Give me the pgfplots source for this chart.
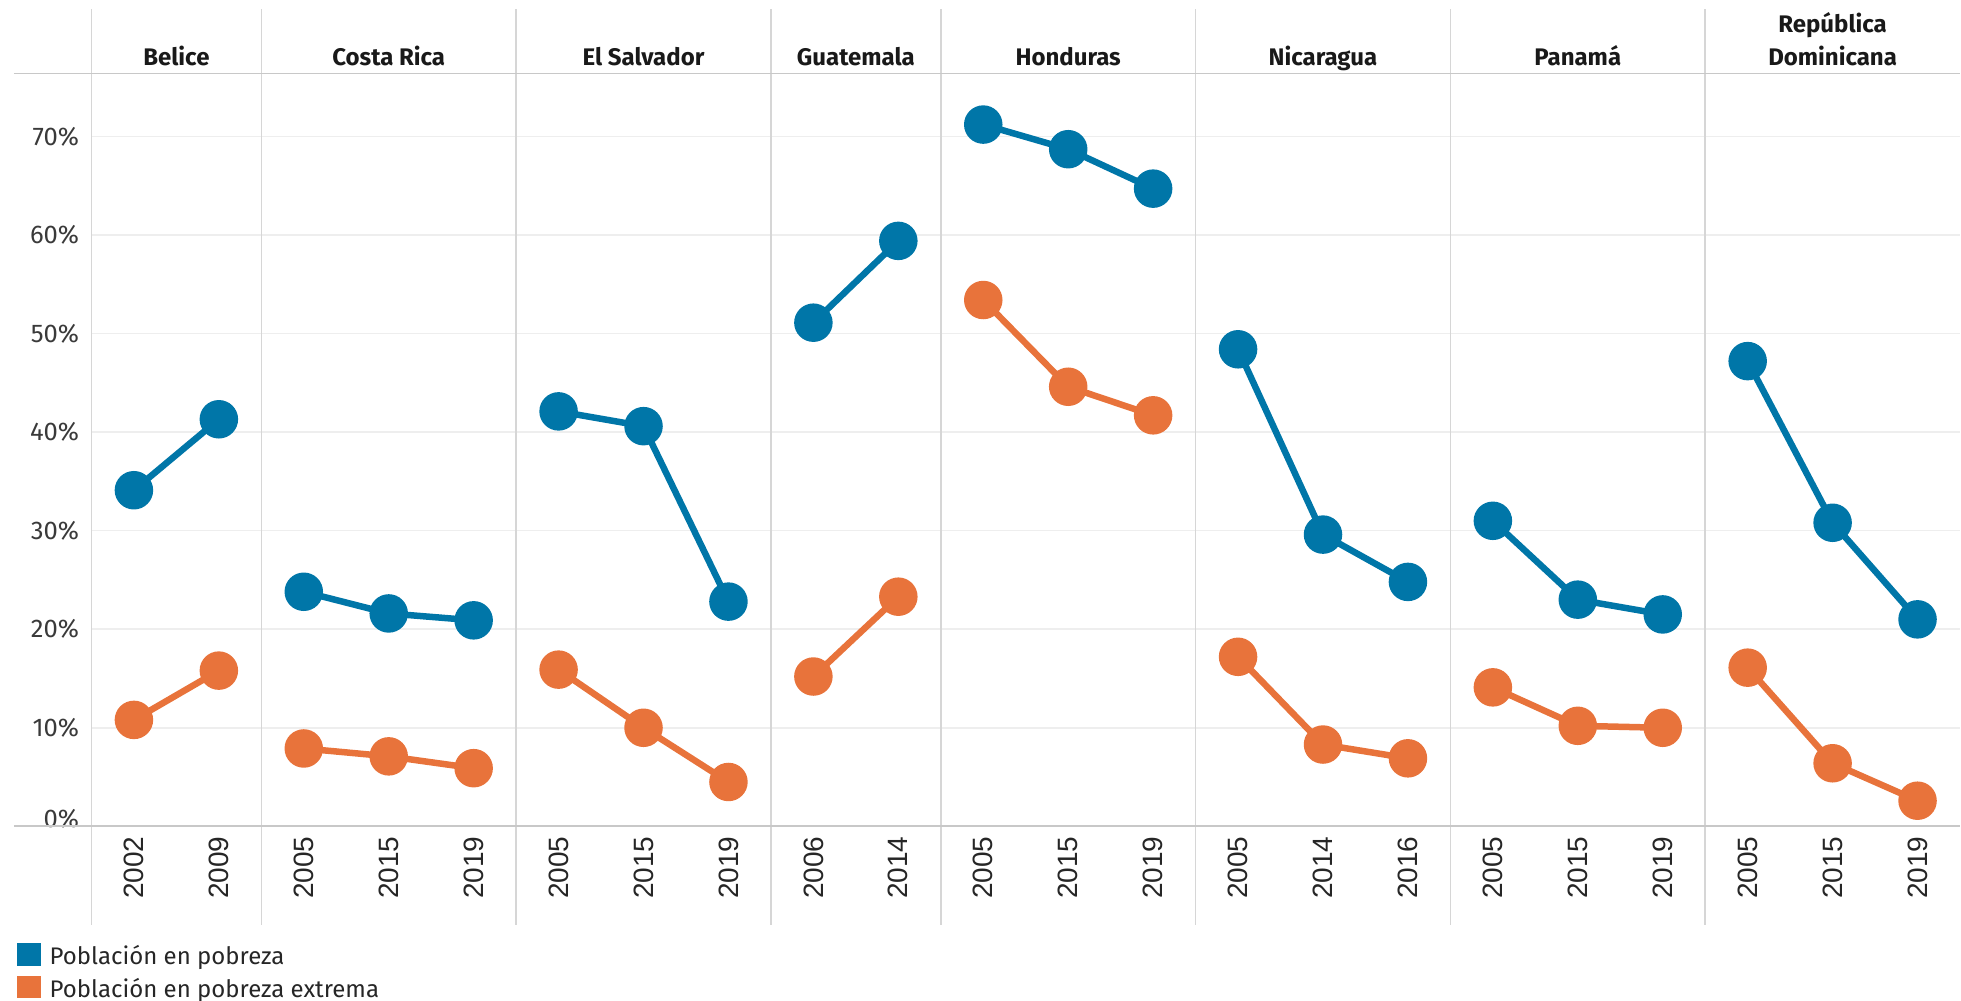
\documentclass[border=0pt]{standalone}
\usepackage{fontspec}
\setmainfont{Fira Sans}
\newfontfamily\yearfont{Liberation Sans}
\usepackage{pgfplots}
\pgfplotsset{compat=1.18}
\definecolor{cblue}{RGB}{0,118,168}
\definecolor{corange}{RGB}{232,115,59}
\definecolor{sepgray}{RGB}{214,214,214}
\definecolor{axgray}{RGB}{200,200,200}
\definecolor{gridgray}{RGB}{238,238,238}
\definecolor{labgray}{RGB}{58,58,58}
\pgfplotsset{
  pb/.style={cblue, line width=3.25pt, mark=*, mark size=8pt, mark options={solid, fill=cblue, draw=none}, forget plot},
  po/.style={corange, line width=3.25pt, mark=*, mark size=8pt, mark options={solid, fill=corange, draw=none}, forget plot},
}
\begin{document}
\begin{tikzpicture}
\begin{axis}[
  scale only axis,
  width=934.75pt, height=376.7pt,
  xmin=0, xmax=22, ymin=0, ymax=76.4,
  clip=false,
  axis line style={draw=none},
  major tick length=0pt,
  tick style={draw=none},
  ymajorgrids,
  grid style={gridgray, line width=0.75pt},
  ytick={0,10,20,30,40,50,60,70},
  yticklabels={\raisebox{8pt}{0\%},10\%,20\%,30\%,40\%,50\%,60\%,70\%},
  yticklabel style={font=\fontsize{12.8}{14}\selectfont, text=labgray, inner sep=0pt},
  yticklabel shift=6pt,
  xtick={0.5,1.5,2.5,3.5,4.5,5.5,6.5,7.5,8.5,9.5,10.5,11.5,12.5,13.5,14.5,15.5,16.5,17.5,18.5,19.5,20.5,21.5},
  xticklabels={2002,2009,2005,2015,2019,2005,2015,2019,2006,2014,2005,2015,2019,2005,2014,2016,2005,2015,2019,2005,2015,2019},
  xticklabel style={rotate=90, anchor=east, font=\yearfont\fontsize{14}{16}\selectfont, text=black!85, inner sep=0pt},
  xticklabel shift=5pt,
  legend cell align=left,
  legend style={at={(-0.0399,-0.1544)}, anchor=north west, draw=none, fill=none,
    inner sep=0pt, outer sep=0pt, row sep=4pt,
    font=\fontsize{12}{14}\selectfont, text=black!85,
    nodes={inner sep=0pt},
    /tikz/every odd column/.append style={column sep=4.5pt}},
]
% separators and frame lines
\foreach \sx in {0,2,5,8,10,13,16,19} {
  \edef\tmp{\noexpand\draw[sepgray, line width=0.75pt] (axis cs:\sx,-10) -- (axis cs:\sx,82.9);}
  \tmp
}
\draw[axgray, line width=0.75pt] (axis cs:-0.912,76.4) -- (axis cs:22,76.4);
\draw[axgray, line width=1pt] (axis cs:-0.912,0) -- (axis cs:22,0);
\path (axis cs:-1.0767,-17.68) rectangle (axis cs:22,83.84);

% titles
\begin{scope}[every node/.style={font=\bfseries\fontsize{12}{16.5}\selectfont, text=black!90, anchor=base, align=center}]
\node at ([yshift=4.15pt]axis cs:1,76.4) {Belice};
\node at ([yshift=4.15pt]axis cs:3.5,76.4) {Costa Rica};
\node at ([yshift=4.15pt]axis cs:6.5,76.4) {El Salvador};
\node at ([yshift=4.15pt]axis cs:9,76.4) {Guatemala};
\node at ([yshift=4.15pt]axis cs:11.5,76.4) {Honduras};
\node at ([yshift=4.15pt]axis cs:14.5,76.4) {Nicaragua};
\node at ([yshift=4.15pt]axis cs:17.5,76.4) {Panamá};
\node at ([yshift=4.15pt]axis cs:20.5,76.4) {República\\Dominicana};
\end{scope}

% Población en pobreza
\addplot[pb] coordinates {(0.5,34.1) (1.5,41.3)};
\addplot[pb] coordinates {(2.5,23.8) (3.5,21.6) (4.5,20.9)};
\addplot[pb] coordinates {(5.5,42.1) (6.5,40.6) (7.5,22.8)};
\addplot[pb] coordinates {(8.5,51.1) (9.5,59.4)};
\addplot[pb] coordinates {(10.5,71.2) (11.5,68.7) (12.5,64.7)};
\addplot[pb] coordinates {(13.5,48.4) (14.5,29.6) (15.5,24.8)};
\addplot[pb] coordinates {(16.5,31.0) (17.5,23.0) (18.5,21.5)};
\addplot[pb] coordinates {(19.5,47.2) (20.5,30.8) (21.5,21.0)};
% Población en pobreza extrema
\addplot[po] coordinates {(0.5,10.8) (1.5,15.8)};
\addplot[po] coordinates {(2.5,7.9) (3.5,7.1) (4.5,5.9)};
\addplot[po] coordinates {(5.5,15.9) (6.5,10.0) (7.5,4.5)};
\addplot[po] coordinates {(8.5,15.2) (9.5,23.3)};
\addplot[po] coordinates {(10.5,53.4) (11.5,44.6) (12.5,41.7)};
\addplot[po] coordinates {(13.5,17.2) (14.5,8.3) (15.5,6.9)};
\addplot[po] coordinates {(16.5,14.1) (17.5,10.2) (18.5,10.0)};
\addplot[po] coordinates {(19.5,16.1) (20.5,6.4) (21.5,2.6)};

\addlegendimage{legend image code/.code={\fill[cblue] (0pt,-4.3pt) rectangle (11.5pt,6.7pt);}}
\addlegendentry{Población en pobreza}
\addlegendimage{legend image code/.code={\fill[corange] (0pt,-4.3pt) rectangle (11.5pt,6.7pt);}}
\addlegendentry{Población en pobreza extrema}
\end{axis}
\end{tikzpicture}
\end{document}
